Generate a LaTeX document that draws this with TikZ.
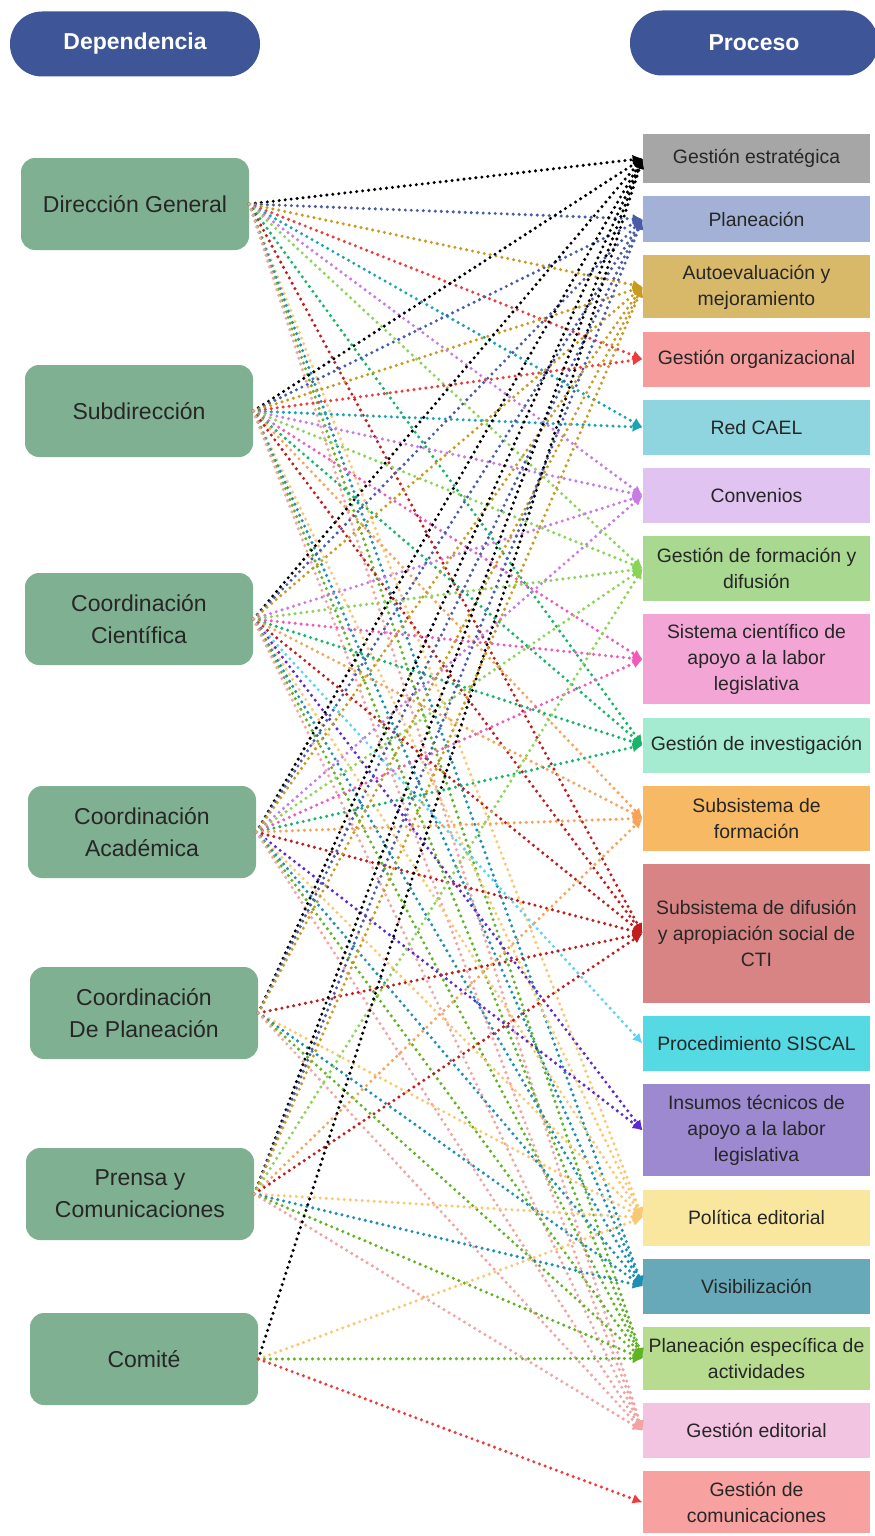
\documentclass[tikz,border=0pt]{standalone}
\usepackage{fontspec}
\setmainfont{Liberation Sans}
\usetikzlibrary{arrows.meta,positioning}
% header and left column
\definecolor{hblue}{HTML}{3E5598}
\definecolor{dgreen}{HTML}{80B092}
% process fills
\definecolor{fgest}{HTML}{A6A6A6}
\definecolor{fplan}{HTML}{A4B1D7}
\definecolor{fauto}{HTML}{D8B96A}
\definecolor{fgorg}{HTML}{F79C9C}
\definecolor{fcael}{HTML}{8FD5E0}
\definecolor{fconv}{HTML}{E0C3F0}
\definecolor{fgfd}{HTML}{A9D891}
\definecolor{fscl}{HTML}{F3A6D6}
\definecolor{fginv}{HTML}{A5EBD1}
\definecolor{fsform}{HTML}{F7B963}
\definecolor{fsdif}{HTML}{D98484}
\definecolor{fsiscal}{HTML}{55DAE3}
\definecolor{finsu}{HTML}{9D89D0}
\definecolor{fpoled}{HTML}{F9E7A0}
\definecolor{fvisib}{HTML}{67A9B8}
\definecolor{fplesp}{HTML}{B7DC8F}
\definecolor{fged}{HTML}{F3C3E2}
\definecolor{fgcom}{HTML}{F8A1A1}
% connector colours, one per process
\definecolor{lgest}{HTML}{000000}
\definecolor{lplan}{HTML}{4A5CA8}
\definecolor{lauto}{HTML}{C99A20}
\definecolor{lgorg}{HTML}{F23A3A}
\definecolor{lcael}{HTML}{1BA3B5}
\definecolor{lconv}{HTML}{C77BE3}
\definecolor{lgfd}{HTML}{8AD45A}
\definecolor{lscl}{HTML}{F05AB8}
\definecolor{lginv}{HTML}{18B46A}
\definecolor{lsform}{HTML}{F7A35A}
\definecolor{lsdif}{HTML}{C21D1D}
\definecolor{lsiscal}{HTML}{5CD3F2}
\definecolor{linsu}{HTML}{5A28D6}
\definecolor{lpoled}{HTML}{F8C873}
\definecolor{lvisib}{HTML}{1E8FB3}
\definecolor{lplesp}{HTML}{5FB325}
\definecolor{lged}{HTML}{F2A3A3}
\definecolor{lgcom}{HTML}{F23A3A}
\tikzset{
 head/.style={fill=hblue,text=white,font=\bfseries\fontsize{11.5}{14}\selectfont,
   rounded corners=16pt,minimum width=125pt,minimum height=32.5pt},
 dep/.style={fill=dgreen,rounded corners=7pt,align=center,minimum width=114pt,
   minimum height=46pt,text=black!85,font=\fontsize{11.5}{16}\selectfont},
 proc/.style={align=center,minimum width=113.5pt,inner sep=2pt,text=black!85,
   font=\fontsize{9.7}{13}\selectfont},
 link/.style={draw=l#1,line width=1.7pt,dash pattern=on 0pt off 3pt,line cap=round,
   -{Latex[length=5pt,width=5pt]}}
}
\begin{document}
\begin{tikzpicture}[x=0.5pt,y=-0.5pt,node distance=6.2pt]
 \useasboundingbox (0,0) rectangle (874,1536);
 \node[head] (hdep) at (135,44) {Dependencia};
 \node[head,minimum width=124pt] (hproc) at (754,43) {Proceso};
 % dependencias
 \node[dep] (dg) at (135,204) {Dirección General};
 \node[dep] (sub) at (139,411) {Subdirección};
 \node[dep] (cc) at (139,619) {Coordinación\\Científica};
 \node[dep] (ca) at (142,832) {Coordinación\\Académica};
 \node[dep] (cp) at (144,1013) {Coordinación\\De Planeación};
 \node[dep] (pc) at (140,1194) {Prensa y\\Comunicaciones};
 \node[dep] (com) at (144,1359) {Comité};
 % procesos
 \node[proc,fill=fgest,minimum height=24.5pt] (gest) at (756.5,158.5) {Gestión estratégica};
 \node[proc,fill=fplan,minimum height=23pt,below=of gest] (plan) {Planeación};
 \node[proc,fill=fauto,minimum height=31.5pt,below=of plan] (auto) {Autoevaluación y\\mejoramiento};
 \node[proc,fill=fgorg,minimum height=27.5pt,below=of auto] (gorg) {Gestión organizacional};
 \node[proc,fill=fcael,minimum height=27.5pt,below=of gorg] (cael) {Red CAEL};
 \node[proc,fill=fconv,minimum height=27.5pt,below=of cael] (conv) {Convenios};
 \node[proc,fill=fgfd,minimum height=32.5pt,below=of conv] (gfd) {Gestión de formación y\\difusión};
 \node[proc,fill=fscl,minimum height=45pt,below=of gfd] (scl) {Sistema científico de\\apoyo a la labor\\legislativa};
 \node[proc,fill=fginv,minimum height=27.5pt,below=of scl] (ginv) {Gestión de investigación};
 \node[proc,fill=fsform,minimum height=32.5pt,below=of ginv] (sform) {Subsistema de\\formación};
 \node[proc,fill=fsdif,minimum height=69.5pt,below=of sform] (sdif) {Subsistema de difusión\\y apropiación social de\\CTI};
 \node[proc,fill=fsiscal,minimum height=27.5pt,below=of sdif] (siscal) {Procedimiento SISCAL};
 \node[proc,fill=finsu,minimum height=46pt,below=of siscal] (insu) {Insumos técnicos de\\apoyo a la labor\\legislativa};
 \node[proc,fill=fpoled,minimum height=28pt,below=of insu] (poled) {Política editorial};
 \node[proc,fill=fvisib,minimum height=27.5pt,below=of poled] (visib) {Visibilización};
 \node[proc,fill=fplesp,minimum height=31.5pt,below=of visib] (plesp) {Planeación específica de\\actividades};
 \node[proc,fill=fged,minimum height=27.5pt,below=of plesp] (ged) {Gestión editorial};
 \node[proc,fill=fgcom,minimum height=31pt,below=of ged] (gcom) {Gestión de\\comunicaciones};
 % relaciones
 \foreach \t in {gest,plan,auto,gorg,cael,conv,gfd,ginv,sdif,poled,visib,plesp,ged}
   \draw[link=\t] (dg.east) -- (\t.west);
 \foreach \t in {gest,plan,auto,gorg,cael,conv,gfd,scl,ginv,sform,sdif,poled,visib,plesp,ged}
   \draw[link=\t] (sub.east) -- (\t.west);
 \foreach \t in {gest,plan,auto,conv,gfd,scl,ginv,sform,sdif,siscal,insu,poled,visib,plesp,ged}
   \draw[link=\t] (cc.east) -- (\t.west);
 \foreach \t in {gest,plan,auto,conv,gfd,scl,ginv,sform,sdif,insu,poled,visib,plesp,ged}
   \draw[link=\t] (ca.east) -- (\t.west);
 \foreach \t in {gest,plan,auto,sdif,poled,visib,plesp,ged}
   \draw[link=\t] (cp.east) -- (\t.west);
 \foreach \t in {gest,plan,auto,gfd,sform,sdif,poled,visib,plesp,ged}
   \draw[link=\t] (pc.east) -- (\t.west);
 \foreach \t in {gest,poled,plesp,gcom}
   \draw[link=\t] (com.east) -- (\t.west);
\end{tikzpicture}
\end{document}
